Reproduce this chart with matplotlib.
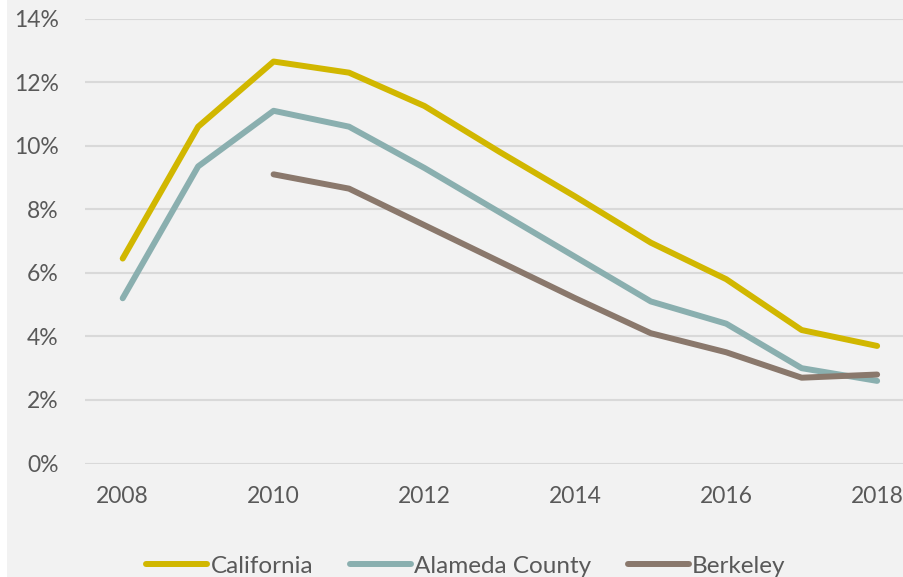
import matplotlib
matplotlib.use("Agg")
import matplotlib.pyplot as plt
from matplotlib.patches import Rectangle
from matplotlib.ticker import FuncFormatter

# 데이터 (그림에서 읽은 실업률, %)
years = [2008, 2009, 2010, 2011, 2012, 2013, 2014, 2015, 2016, 2017, 2018]
california = [6.45, 10.6, 12.65, 12.3, 11.25, 9.8, 8.4, 6.95, 5.8, 4.2, 3.7]
alameda = [5.2, 9.35, 11.1, 10.6, 9.3, 7.9, 6.5, 5.1, 4.4, 3.0, 2.6]
berkeley_years = [2010, 2011, 2012, 2013, 2014, 2015, 2016, 2017, 2018]
berkeley = [9.1, 8.65, 7.5, 6.35, 5.2, 4.1, 3.5, 2.7, 2.8]

series_names = ["California", "Alameda County", "Berkeley"]
colors = ["#d1b700", "#8aafaf", "#8a786c"]

plt.rcParams['font.family'] = ['Lato', 'DejaVu Sans']
text_color = "#595959"

fig = plt.figure(figsize=(9.04, 5.77), dpi=100)
fig.patch.set_facecolor("#f2f2f2")
# 왼쪽 흰색 띠
fig.patches.append(Rectangle((0, 0), 7 / 904, 1, transform=fig.transFigure,
                             facecolor="white", edgecolor="none", zorder=-1))

ax = fig.add_axes([0.094, 0.1967, 0.918, 0.771])
ax.set_facecolor("#f2f2f2")

ax.plot(years, california, color=colors[0], lw=4.3, solid_capstyle='round', label=series_names[0])
ax.plot(years, alameda, color=colors[1], lw=4.3, solid_capstyle='round', label=series_names[1])
ax.plot(berkeley_years, berkeley, color=colors[2], lw=4.3, solid_capstyle='round', label=series_names[2])

ax.set_xlim(2007.5, 2018.5)
ax.set_ylim(0, 14)
ax.set_yticks(range(0, 15, 2))
ax.set_xticks(range(2008, 2019, 2))
ax.yaxis.set_major_formatter(FuncFormatter(lambda v, p: f"{int(v)}%"))

ax.grid(axis='y', color="#d9d9d9", lw=1.5)
ax.set_axisbelow(True)
for s in ax.spines.values():
    s.set_visible(False)
ax.tick_params(axis='both', length=0, labelsize=16.5, labelcolor=text_color)
ax.tick_params(axis='y', pad=19)
ax.tick_params(axis='x', pad=16)

leg = fig.legend(loc='center', bbox_to_anchor=(466 / 904, 11 / 577), ncol=3,
                 frameon=False, fontsize=17.5, handlelength=2.5, handletextpad=0.15,
                 columnspacing=1.5, labelcolor=text_color)
for h in leg.get_lines():
    h.set_linewidth(4.3)

fig.savefig("out.png", dpi=100, facecolor=fig.get_facecolor())
